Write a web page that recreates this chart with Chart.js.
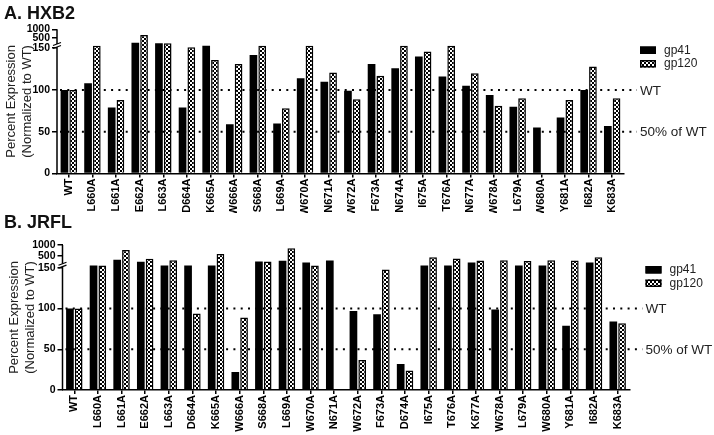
<!DOCTYPE html>
<html>
<head>
<meta charset="utf-8">
<script src="https://cdn.jsdelivr.net/npm/chart.js@4.4.1/dist/chart.umd.min.js"></script>
<style>
  html, body { margin: 0; padding: 0; background: #fff; }
  #wrap { position: relative; width: 714px; height: 435px; }
  canvas { position: absolute; left: 0; }
</style>
</head>
<body>
<div id="wrap">
  <canvas id="chartA" width="714" height="213" style="top:0"></canvas>
  <canvas id="chartB" width="714" height="222" style="top:213px"></canvas>
</div>
<script>
// categories
const labelsA = ["WT", "L660A", "L661A", "E662A", "L663A", "D664A", "K665A", "W666A", "S668A", "L669A", "W670A", "N671A",
                 "W672A", "F673A", "N674A", "I675A", "T676A", "N677A", "W678A", "L679A", "W680A", "Y681A", "I682A", "K683A"];
const labelsB = ["WT", "L660A", "L661A", "E662A", "L663A", "D664A", "K665A", "W666A", "S668A", "L669A", "W670A", "N671A",
                 "W672A", "F673A", "D674A", "I675A", "T676A", "K677A", "W678A", "L679A", "W680A", "Y681A", "I682A", "K683A"];

// percent expression, normalized to WT
const gp41A  = [100, 108, 79, 205, 195, 79, 173, 59, 142, 60, 114, 110, 99, 131, 126, 140, 116, 105, 94, 80, 55, 67, 100, 57];
const gp120A = [100, 173, 88, 665, 195, 158, 136, 131, 173, 78, 173, 121, 89, 117, 173, 146, 173, 120, 81, 90, null, 88, 128, 90];
const gp41B  = [100, 173, 326, 233, 173, 173, 173, 22, 248, 278, 204, 296, 97, 93, 32, 173, 173, 204, 99, 173, 173, 79, 204, 84];
const gp120B = [100, 173, 778, 370, 307, 94, 596, 89, 248, 852, 173, null, 37, 148, 24, 444, 385, 296, 307, 270, 307, 296, 444, 82];

// axis ticks and reference lines
const yTicks = [0, 50, 100, 150, 500, 1000];
const refLines = [100, 50];
const refLabels = ["WT", "50% of WT"];

const FONT = "'Liberation Sans', Arial, sans-serif";
Chart.defaults.font.family = FONT;

// checkered fill for gp120
const tile = document.createElement("canvas");
tile.width = tile.height = 4;
const tctx = tile.getContext("2d");
tctx.fillStyle = "#000";
tctx.fillRect(0, 0, 4, 4);
tctx.fillStyle = "#fff";
tctx.fillRect(0, 0, 2, 2);
tctx.fillRect(2, 2, 2, 2);
const checker = tctx.createPattern(tile, "repeat");

// broken axis: 0-150 linear, 150-200 squeezed into the break, 200-1000 compressed
function broken(v, slope) {
    if (v == null) return null;
    if (v <= 150) return v;
    if (v <= 200) return 150 + (v - 150) * 0.13;
    return 156.5 + (v - 200) * slope;
}

const decor = {
    id: "decor",
    beforeDatasetsDraw(chart, args, opts) {
        const {ctx, chartArea: a} = chart;
        const y = chart.scales.y;
        const tr = opts.tr;
        ctx.save();
        // dotted reference lines
        ctx.strokeStyle = "#000";
        ctx.lineWidth = 2;
        ctx.setLineDash([2, 5.3]);
        ctx.font = "13.5px " + FONT;
        ctx.fillStyle = "#222";
        ctx.textBaseline = "middle";
        refLines.forEach((v, i) => {
            const py = y.getPixelForValue(tr(v));
            ctx.beginPath();
            ctx.moveTo(a.left + 3, py);
            ctx.lineTo(a.right + 13, py);
            ctx.stroke();
            ctx.fillText(refLabels[i], a.right + 16, py + 1);
        });
        ctx.setLineDash([]);
        // panel title
        ctx.font = "bold 18px " + FONT;
        ctx.fillStyle = "#111";
        ctx.fillText(opts.title, 4, opts.titleY);
        // legend
        ctx.font = "12px " + FONT;
        chart.data.datasets.forEach((ds, i) => {
            const bx = a.right + 16, by = opts.legendY + i * 13.5;
            ctx.fillStyle = ds.backgroundColor;
            ctx.fillRect(bx, by, 16, 7.5);
            ctx.strokeStyle = "#000";
            ctx.lineWidth = 1.5;
            ctx.strokeRect(bx + 0.75, by + 0.75, 14.5, 6);
            ctx.fillStyle = "#222";
            ctx.fillText(ds.label, bx + 24, by + 4);
        });
        ctx.restore();
    },
    afterDatasetsDraw(chart) {
        const {ctx, chartArea: a} = chart;
        const y = chart.scales.y;
        const x0 = a.left;
        const yLow = y.getPixelForValue(151.5);
        const yHigh = y.getPixelForValue(155);
        ctx.save();
        ctx.strokeStyle = "#000";
        ctx.lineWidth = 1.5;
        ctx.beginPath();
        ctx.moveTo(x0, a.bottom);
        ctx.lineTo(x0, yLow);
        ctx.moveTo(x0, yHigh);
        ctx.lineTo(x0, a.top);
        ctx.stroke();
        ctx.lineWidth = 1.2;
        ctx.beginPath();
        [yLow, yHigh].forEach(py => {
            ctx.moveTo(x0 - 4, py + 1.5);
            ctx.lineTo(x0 + 4, py - 1.5);
        });
        ctx.stroke();
        ctx.restore();
    }
};

function panel(id, title, labels, gp41, gp120, ax) {
    const tr = v => broken(v, ax.slope);
    return new Chart(document.getElementById(id), {
        type: "bar",
        data: {
            labels: labels,
            datasets: [
                {label: "gp41", data: gp41.map(tr), backgroundColor: "#000", borderWidth: 0},
                {label: "gp120", data: gp120.map(tr), backgroundColor: checker, borderColor: "#000", borderWidth: 1.5}
            ]
        },
        options: {
            responsive: false,
            animation: false,
            categoryPercentage: 0.74,
            barPercentage: 0.88,
            layout: {padding: {left: ax.padLeft, right: ax.padRight, top: ax.top, bottom: 0}},
            plugins: {
                legend: {display: false},
                tooltip: {enabled: false},
                decor: {tr: tr, title: title, titleY: ax.titleY, legendY: ax.legendY}
            },
            scales: {
                x: {
                    grid: {drawOnChartArea: false, offset: false, tickLength: 4, color: "#000", lineWidth: 1.5},
                    border: {color: "#000", width: 1.5},
                    ticks: {autoSkip: false, minRotation: 90, maxRotation: 90, padding: 1, color: "#000",
                            font: {size: 11, weight: "bold"}},
                    afterFit: s => { s.height = ax.xHeight; }
                },
                y: {
                    min: 0,
                    max: tr(1000),
                    afterBuildTicks: s => { s.ticks = yTicks.map(v => ({value: tr(v)})); },
                    ticks: {autoSkip: false, padding: 2, color: "#000", font: {size: 10.5, weight: "bold"},
                            callback: (val, i) => String(yTicks[i])},
                    grid: {drawOnChartArea: false, tickLength: 5, color: "#000", lineWidth: 1.5},
                    border: {display: false},
                    title: {display: true, text: ["Percent Expression", "(Normalized to WT)"], color: "#222",
                            font: {size: 13}, padding: {top: 4, bottom: 0}},
                    afterFit: s => { s.width = ax.yWidth; }
                }
            }
        },
        plugins: [decor]
    });
}

panel("chartA", "A. HXB2", labelsA, gp41A, gp120A,
      {slope: 0.0202, padLeft: 0, yWidth: 57, padRight: 90, top: 29.3, xHeight: 39.5, titleY: 14, legendY: 46.5});
panel("chartB", "B. JRFL", labelsB, gp41B, gp120B,
      {slope: 0.027, padLeft: 3, yWidth: 59.5, padRight: 84.5, top: 32, xHeight: 45, titleY: 10, legendY: 53});
</script>
</body>
</html>
